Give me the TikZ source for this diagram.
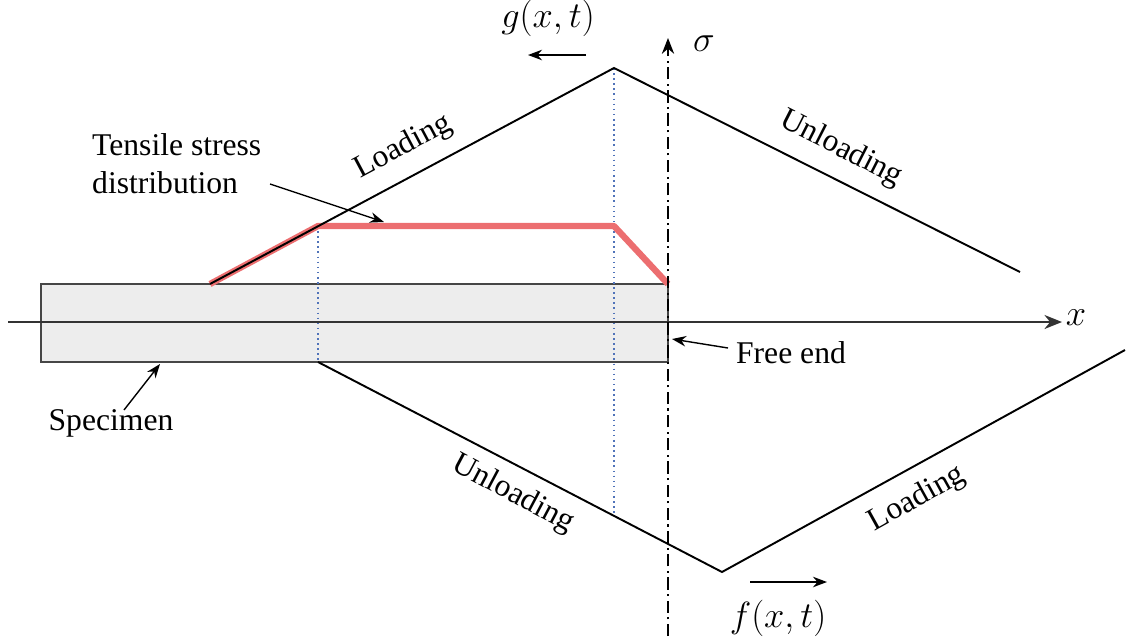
\documentclass[tikz,border=0pt]{standalone}
\usepackage{fontspec}
\setmainfont{Liberation Serif}
\usetikzlibrary{arrows.meta}
\definecolor{stressred}{RGB}{236,110,112}
\definecolor{guideblue}{RGB}{80,115,185}
\tikzset{
  wave/.style={line width=1.1pt, black},
  guide/.style={guideblue, dotted, line width=0.9pt},
  pointer/.style={-{Stealth[length=8pt,width=6pt]}, line width=0.8pt},
  lbl/.style={font=\fontsize{18}{21.5}\selectfont},
  mathlbl/.style={font=\fontsize{21}{24}\selectfont}
}
\begin{document}
\begin{tikzpicture}[x=0.02cm, y=-0.02cm]
			\useasboundingbox (0,0) rectangle (1127,640);
			% Specimen and axes
			\coordinate (S1) at (41,284);
			\coordinate (S2) at (668,362);
			\coordinate (Xl) at (8,322);
			\coordinate (Xr) at (1062,322);
			\coordinate (Sb) at (668,636);
			\coordinate (St) at (668,38);
			
			% Corners of the wave fronts
			\coordinate (A) at (210,284);
			\coordinate (P) at (614,68);
			\coordinate (U) at (1020,272);
			\coordinate (B) at (318,362);
			\coordinate (V) at (722,572);
			\coordinate (L) at (1125,350);
			
			% Corners of the stress profile
			\coordinate (R1) at (318,226);
			\coordinate (R2) at (614,226);
			\coordinate (R3) at (668,284);
			\coordinate (Q) at (614,516);
			
			% Specimen body
			\filldraw[fill=gray!14, draw=gray!55!black, line width=1.1pt] (S1) rectangle (S2);
			
			% Dotted guides
			\draw[guide] (R1) -- (B);
			\draw[guide] (P) -- (Q);
			
			% Tensile stress distribution
			\draw[stressred, line width=3.6pt, line join=round] (A) -- (R1) -- (R2) -- (R3);
			
			% Wave fronts
			\draw[wave] (A) -- (P) -- (U);
			\draw[wave] (B) -- (V) -- (L);
			
			% Axes
			\draw[-{Stealth[length=10pt,width=8pt]}, line width=1.1pt, black!80] (Xl) -- (Xr);
			\draw[-{Stealth[length=9pt,width=7pt]}, line width=1pt, dash pattern=on 7pt off 2.5pt on 1.2pt off 2.5pt] (Sb) -- (St);
			\node[mathlbl] (xl) at (1076,318) {$x$};
			\node[mathlbl] (sig) at (704,44) {$\sigma$};
			
			% Front labels
			\node[lbl, rotate=28] (ld1) at (403,147) {Loading};
			\node[lbl, rotate=-27] (ul1) at (841,149) {Unloading};
			\node[lbl, rotate=-28] (ul2) at (513,494) {Unloading};
			\node[lbl, rotate=29] (ld2) at (917,499) {Loading};
			
			% Propagation directions
			\node[mathlbl] (g) at (548,18) {$g(x,t)$};
			\coordinate (g1) at (586,55);
			\coordinate (g2) at (528,55);
			\draw[pointer] (g1) -- (g2);
			\node[mathlbl] (f) at (778,618) {$f(x,t)$};
			\coordinate (f1) at (750,582);
			\coordinate (f2) at (827,582);
			\draw[pointer] (f1) -- (f2);
			
			% Callouts
			\node[lbl, align=left, anchor=west] (ts) at (86,164) {Tensile stress\\distribution};
			\coordinate (ts1) at (270,184);
			\coordinate (ts2) at (384,222);
			\draw[pointer] (ts1) -- (ts2);
			\node[lbl] (sp) at (111,423) {Specimen};
			\coordinate (sp1) at (124,410);
			\coordinate (sp2) at (160,364);
			\draw[pointer] (sp1) -- (sp2);
			\node[lbl] (fe) at (791,353) {Free end};
			\coordinate (fe1) at (728,348);
			\coordinate (fe2) at (672,339);
			\draw[pointer] (fe1) -- (fe2);
		\end{tikzpicture}
\end{document}
